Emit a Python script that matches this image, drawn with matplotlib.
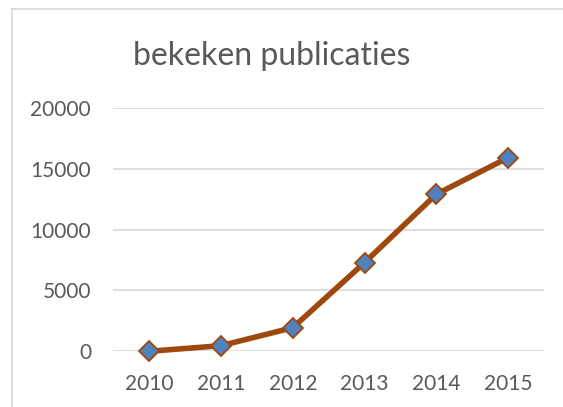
import matplotlib.pyplot as plt
from matplotlib.lines import Line2D

years = ["2010", "2011", "2012", "2013", "2014", "2015"]
views = [0, 460, 1940, 7290, 12910, 15920]
y_ticks = [0, 5000, 10000, 15000, 20000]

plt.rcParams["font.family"] = ["Lato", "DejaVu Sans"]
text_col = "#595959"

fig = plt.figure(figsize=(5.63, 4.07), dpi=100)
ax = fig.add_axes([0.2013, 0.1369, 0.7649, 0.5977])

x = list(range(len(years)))
ax.plot(x, views, color="#9E480E", linewidth=4, marker="D", markersize=10.5,
        markerfacecolor="#4F81BD", markeredgecolor="#9E480E", markeredgewidth=1.3,
        zorder=3, clip_on=False)

ax.set_xlim(-0.5, len(years) - 0.5)
ax.set_ylim(0, 20000)
ax.set_yticks(y_ticks)
ax.set_yticklabels([str(v) for v in y_ticks])
ax.set_xticks(x)
ax.set_xticklabels(years)
ax.tick_params(length=0, labelsize=15, colors=text_col)
ax.tick_params(axis="y", pad=16)
ax.tick_params(axis="x", pad=16)
ax.grid(axis="y", color="#D9D9D9", linewidth=1.2)
ax.set_axisbelow(True)
for s in ax.spines.values():
    s.set_visible(False)

fig.text(0.483, 0.840, "bekeken publicaties", ha="center", va="baseline",
         fontsize=23, color=text_col)

# chart border (only top and left visible in the crop)
fig.add_artist(Line2D([12 / 563, 12 / 563], [0, 1 - 9 / 407], color="#D9D9D9", linewidth=1.2))
fig.add_artist(Line2D([12 / 563, 1], [1 - 9 / 407, 1 - 9 / 407], color="#D9D9D9", linewidth=1.2))

fig.savefig("out.png", dpi=100)
